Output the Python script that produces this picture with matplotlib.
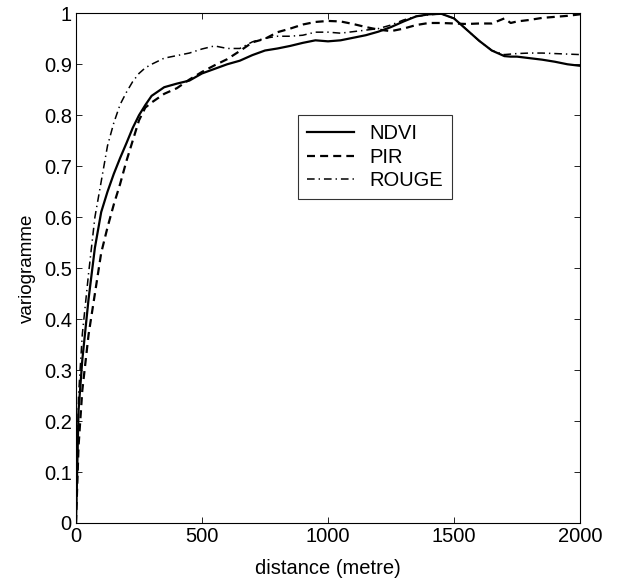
import matplotlib
matplotlib.use("Agg")
import matplotlib.pyplot as plt

plt.rcParams['font.family'] = ['Liberation Sans', 'DejaVu Sans']

# Data #
distance = [0, 10, 25, 50, 75, 100, 125, 150, 175, 200, 225, 250, 275, 300,
            350, 400, 450, 500, 550, 600, 650, 700, 750, 800, 850, 900, 950,
            1000, 1050, 1100, 1150, 1200, 1250, 1300, 1350, 1400, 1450, 1500,
            1550, 1600, 1650, 1700, 1725, 1750, 1800, 1850, 1900, 1950, 2000]

ndvi = [0, 0.22, 0.32, 0.44, 0.54, 0.61, 0.65, 0.685, 0.716, 0.745, 0.775, 0.80, 0.82, 0.838,
        0.855, 0.862, 0.868, 0.882, 0.891, 0.900, 0.907, 0.918, 0.927, 0.931, 0.936, 0.942, 0.947,
        0.945, 0.947, 0.952, 0.957, 0.964, 0.973, 0.984, 0.994, 0.998, 0.999, 0.990,
        0.968, 0.946, 0.927, 0.916, 0.915, 0.915, 0.912, 0.909, 0.905, 0.900, 0.897]

pir = [0, 0.15, 0.26, 0.37, 0.45, 0.53, 0.58, 0.625, 0.665, 0.71, 0.75, 0.79, 0.815, 0.825,
       0.842, 0.853, 0.870, 0.885, 0.898, 0.910, 0.926, 0.943, 0.950, 0.963, 0.970, 0.978, 0.983,
       0.985, 0.984, 0.979, 0.973, 0.968, 0.965, 0.970, 0.977, 0.981, 0.981, 0.980,
       0.979, 0.980, 0.980, 0.990, 0.981, 0.984, 0.987, 0.991, 0.993, 0.995, 0.998]

rouge = [0, 0.25, 0.37, 0.49, 0.60, 0.67, 0.74, 0.785, 0.821, 0.845, 0.866, 0.882, 0.893, 0.900,
         0.912, 0.917, 0.922, 0.930, 0.936, 0.931, 0.931, 0.944, 0.951, 0.955, 0.955, 0.957, 0.963,
         0.963, 0.961, 0.964, 0.967, 0.970, 0.977, 0.987, 0.994, 0.997, 0.999, 0.990,
         0.968, 0.946, 0.927, 0.919, 0.920, 0.921, 0.922, 0.922, 0.921, 0.920, 0.919]

labels = ["NDVI", "PIR", "ROUGE"]
xticks = [0, 500, 1000, 1500, 2000]
yticks = [0, 0.1, 0.2, 0.3, 0.4, 0.5, 0.6, 0.7, 0.8, 0.9, 1]
ytick_labels = ["0", "0.1", "0.2", "0.3", "0.4", "0.5", "0.6", "0.7", "0.8", "0.9", "1"]

# Plotting #
fig = plt.figure(figsize=(6.21, 5.85), dpi=100)
ax = fig.add_axes([76 / 621, 1 - 523 / 585, 504 / 621, 509.7 / 585])

ax.plot(distance, ndvi, color="black", lw=1.6, ls="-", label=labels[0])
ax.plot(distance, pir, color="black", lw=1.6, dashes=(3.6, 2.3), label=labels[1])
ax.plot(distance, rouge, color="black", lw=1.1, dashes=(5.0, 2.6, 0.9, 2.6), label=labels[2])

ax.set_xlim(0, 2000)
ax.set_ylim(0, 1)
ax.set_xticks(xticks)
ax.set_xticklabels([str(t) for t in xticks])
ax.set_yticks(yticks)
ax.set_yticklabels(ytick_labels)
ax.tick_params(direction="in", top=True, right=True, length=4, width=0.6,
               labelsize=14.5, pad=3)
for sp in ax.spines.values():
    sp.set_linewidth(0.8)

ax.set_xlabel("distance (metre)", fontsize=14.5, labelpad=9)
ax.set_ylabel("variogramme", fontsize=13.5, labelpad=6)

leg = ax.legend(loc="upper left", bbox_to_anchor=(0.441, 0.800), borderaxespad=0,
                fontsize=14.5, frameon=True, fancybox=False, edgecolor="black",
                handlelength=2.3, labelspacing=0.22, borderpad=0.45, handletextpad=0.8)
leg.get_frame().set_linewidth(0.8)

fig.savefig("out.png", dpi=100)
